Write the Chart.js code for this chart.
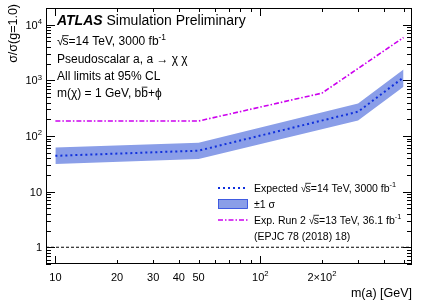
<!DOCTYPE html>
<html><head><meta charset="utf-8">
<script src="https://cdn.jsdelivr.net/npm/chart.js@4.4.0/dist/chart.umd.min.js"></script>
<style>html,body{margin:0;padding:0;background:#fff;}</style>
</head><body>
<canvas id="c" width="425" height="305"></canvas>
<script>
// ---- data ----
const massExp   = [10, 50, 300, 500];
const expected  = [44, 54.5, 273, 1130];
const bandUp    = [62, 76, 385, 1570];
const bandDown  = [31.5, 38.7, 190, 766];
const massRun2  = [10, 50, 200, 500];
const run2      = [186, 186, 590, 5900];
const refMass   = [9, 550];
const refValue  = [1, 1];

const xTickValues = [10, 20, 30, 40, 50, 100, 200];
const xTickLabels = ['10', '20', '30', '40', '50', '10^{2}', '2\u00d710^{2}'];
const yTickValues = [1, 10, 100, 1000, 10000];
const yTickLabels = ['1', '10', '10^{2}', '10^{3}', '10^{4}'];

const seriesLabels = ['Expected #sqrt{s}=14 TeV, 3000 fb^{-1}', '\u00b11 \u03c3', 'Exp. Run 2 #sqrt{s}=13 TeV, 36.1 fb^{-1}'];
const legendNote = '(EPJC 78 (2018) 18)';
const infoLines = ['#sqrt{s}=14 TeV, 3000 fb^{-1}', 'Pseudoscalar a, a \u2192 \u03c7 \u03c7', 'All limits at 95% CL', 'm(\u03c7) = 1 GeV, b#bar{b}+\u03d5'];
const xTitle = 'm(a) [GeV]';
const yTitle = '\u03c3/\u03c3(g=1.0)';

const BLUE = 'rgb(16,48,220)';
const BAND = 'rgb(138,158,232)';
const PURPLE = 'rgb(204,0,238)';
const FONT = "'Liberation Sans', Arial, Helvetica, sans-serif";

// ---- rich text helpers ----
function parseRich(s){
  const segs=[]; let i=0; let buf='';
  const flush=()=>{ if(buf){segs.push({t:buf,type:'n'}); buf='';} };
  while(i<s.length){
    if(s[i]==='^' && s[i+1]==='{'){ flush(); const j=s.indexOf('}',i); segs.push({t:s.slice(i+2,j),type:'sup'}); i=j+1; }
    else if(s.startsWith('#bar{',i)){ flush(); const j=s.indexOf('}',i); segs.push({t:s.slice(i+5,j),type:'bar'}); i=j+1; }
    else if(s.startsWith('#sqrt{',i)){ flush(); const j=s.indexOf('}',i); segs.push({t:s.slice(i+6,j),type:'sqrt'}); i=j+1; }
    else { buf+=s[i]; i++; }
  }
  flush();
  return segs;
}
function segW(ctx,g,size,style){
  if(g.type==='sup'){ ctx.font=`${style} ${size*0.7}px ${FONT}`; return ctx.measureText(g.t).width; }
  ctx.font=`${style} ${size}px ${FONT}`;
  if(g.type==='sqrt'){ return ctx.measureText('\u221a').width*0.85 + ctx.measureText(g.t).width; }
  return ctx.measureText(g.t).width;
}
function drawRich(ctx,s,x,y,size,align,style,color){
  style=style||'normal'; color=color||'#000';
  const segs=parseRich(s);
  let w=0; for(const g of segs) w+=segW(ctx,g,size,style);
  let cx = align==='right'? x-w : (align==='center'? x-w/2 : x);
  ctx.save(); ctx.fillStyle=color; ctx.strokeStyle=color; ctx.textAlign='left'; ctx.textBaseline='alphabetic'; ctx.lineWidth=Math.max(0.8,size/14);
  for(const g of segs){
    if(g.type==='sup'){
      ctx.font=`${style} ${size*0.7}px ${FONT}`; ctx.fillText(g.t,cx,y-size*0.42); cx+=ctx.measureText(g.t).width;
    } else if(g.type==='bar'){
      ctx.font=`${style} ${size}px ${FONT}`; const tw=ctx.measureText(g.t).width; ctx.fillText(g.t,cx,y);
      ctx.beginPath(); ctx.moveTo(cx+0.5,y-size*0.82); ctx.lineTo(cx+tw-0.5,y-size*0.82); ctx.stroke(); cx+=tw;
    } else if(g.type==='sqrt'){
      ctx.font=`${style} ${size}px ${FONT}`; const sw=ctx.measureText('\u221a').width; ctx.fillText('\u221a',cx,y);
      const tx=cx+sw*0.85; const tw=ctx.measureText(g.t).width; ctx.fillText(g.t,tx,y);
      ctx.beginPath(); ctx.moveTo(cx+sw*0.8,y-size*0.78); ctx.lineTo(tx+tw,y-size*0.78); ctx.stroke(); cx=tx+tw;
    } else {
      ctx.font=`${style} ${size}px ${FONT}`; ctx.fillText(g.t,cx,y); cx+=ctx.measureText(g.t).width;
    }
  }
  ctx.restore();
  return w;
}

const pts=(xs,ys)=>xs.map((x,i)=>({x:x,y:ys[i]}));

const decorations = {
  id:'decorations',
  afterDraw(chart){
    const ctx=chart.ctx, a=chart.chartArea, xs=chart.scales.x, ys=chart.scales.y;
    ctx.save();
    // frame
    ctx.strokeStyle='#000'; ctx.lineWidth=1;
    ctx.strokeRect(Math.round(a.left)+0.5, Math.round(a.top)+0.5, Math.round(a.right-a.left)-1, Math.round(a.bottom-a.top)-1);
    // x ticks (bottom and top)
    ctx.beginPath();
    for(let d=1; d<=1000; d*=10){
      for(let m=1; m<=9; m++){
        const v=m*d; if(v<xs.min||v>xs.max) continue;
        const px=Math.round(xs.getPixelForValue(v))+0.5;
        const len = (m===1)? 8 : 4;
        ctx.moveTo(px,a.bottom); ctx.lineTo(px,a.bottom-len);
        ctx.moveTo(px,a.top); ctx.lineTo(px,a.top+len);
      }
    }
    // y ticks (left and right)
    for(let d=0.1; d<=10000; d*=10){
      for(let m=1; m<=9; m++){
        const v=m*d; if(v<ys.min*0.999||v>=ys.max*0.999) continue;
        const py=Math.round(ys.getPixelForValue(v))+0.5;
        const len = (m===1)? 9 : 5;
        ctx.moveTo(a.left,py); ctx.lineTo(a.left+len,py);
        ctx.moveTo(a.right,py); ctx.lineTo(a.right-len,py);
      }
    }
    ctx.stroke();
    // tick labels
    xTickValues.forEach((v,i)=>{ drawRich(ctx,xTickLabels[i],xs.getPixelForValue(v),281,11,'center'); });
    yTickValues.forEach((v,i)=>{ drawRich(ctx,yTickLabels[i],42,ys.getPixelForValue(v)+4,11,'right'); });
    // axis titles
    drawRich(ctx,xTitle,a.right,297,12.5,'right');
    ctx.save(); ctx.translate(17,4); ctx.rotate(-Math.PI/2); drawRich(ctx,yTitle,0,0,12.5,'right'); ctx.restore();
    // ATLAS label
    const wA = drawRich(ctx,'ATLAS',57,25,14,'left','italic bold');
    drawRich(ctx,' Simulation Preliminary',57+wA,25,14,'left');
    const baseY=[45,63,80,97];
    infoLines.forEach((t,i)=>drawRich(ctx,t,57,baseY[i],12,'left'));
    // legend
    const rows=[188,204,220,236];
    const lx0=218, lx1=248, tx=254;
    ctx.lineWidth=2; ctx.strokeStyle=BLUE; ctx.setLineDash([2,3]);
    ctx.beginPath(); ctx.moveTo(lx0,rows[0]); ctx.lineTo(lx1,rows[0]); ctx.stroke();
    ctx.setLineDash([]);
    ctx.fillStyle=BAND; ctx.fillRect(lx0,rows[1]-5,lx1-lx0,10);
    ctx.strokeStyle=BLUE; ctx.lineWidth=0.6; ctx.strokeRect(lx0+0.5,rows[1]-4.5,lx1-lx0-1,9);
    ctx.lineWidth=1.6; ctx.strokeStyle=PURPLE; ctx.setLineDash([5,2,1.5,2]);
    ctx.beginPath(); ctx.moveTo(lx0,rows[2]); ctx.lineTo(lx1,rows[2]); ctx.stroke();
    ctx.setLineDash([]);
    drawRich(ctx,seriesLabels[0],tx,rows[0]+3.5,10.5,'left');
    drawRich(ctx,seriesLabels[1],tx,rows[1]+3.5,10.5,'left');
    drawRich(ctx,seriesLabels[2],tx,rows[2]+3.5,10.5,'left');
    drawRich(ctx,legendNote,tx,rows[3]+3.5,10.5,'left');
    ctx.restore();
  }
};

new Chart(document.getElementById('c'),{
  type:'line',
  data:{datasets:[
    {label:seriesLabels[1], data:pts(massExp,bandUp), borderColor:'rgba(0,0,0,0)', borderWidth:0, pointRadius:0, backgroundColor:BAND, fill:'+1', order:10},
    {label:'band low', data:pts(massExp,bandDown), borderColor:'rgba(0,0,0,0)', borderWidth:0, pointRadius:0, fill:false, order:9},
    {label:seriesLabels[0], data:pts(massExp,expected), borderColor:BLUE, borderWidth:2, borderDash:[2,3], pointRadius:0, fill:false, order:1},
    {label:seriesLabels[2], data:pts(massRun2,run2), borderColor:PURPLE, borderWidth:1.6, borderDash:[5,2,1.5,2], pointRadius:0, fill:false, order:2},
    {label:'g=1', data:pts(refMass,refValue), borderColor:'#000', borderWidth:1, borderDash:[3,2], pointRadius:0, fill:false, order:3}
  ]},
  options:{
    responsive:false, animation:false, devicePixelRatio:1,
    layout:{padding:{left:46,top:8,right:13,bottom:41}},
    plugins:{legend:{display:false}, tooltip:{enabled:false}},
    scales:{
      x:{type:'logarithmic', min:9, max:550, display:false},
      y:{type:'logarithmic', min:0.5, max:20000, display:false}
    }
  },
  plugins:[decorations]
});
</script>
</body></html>
